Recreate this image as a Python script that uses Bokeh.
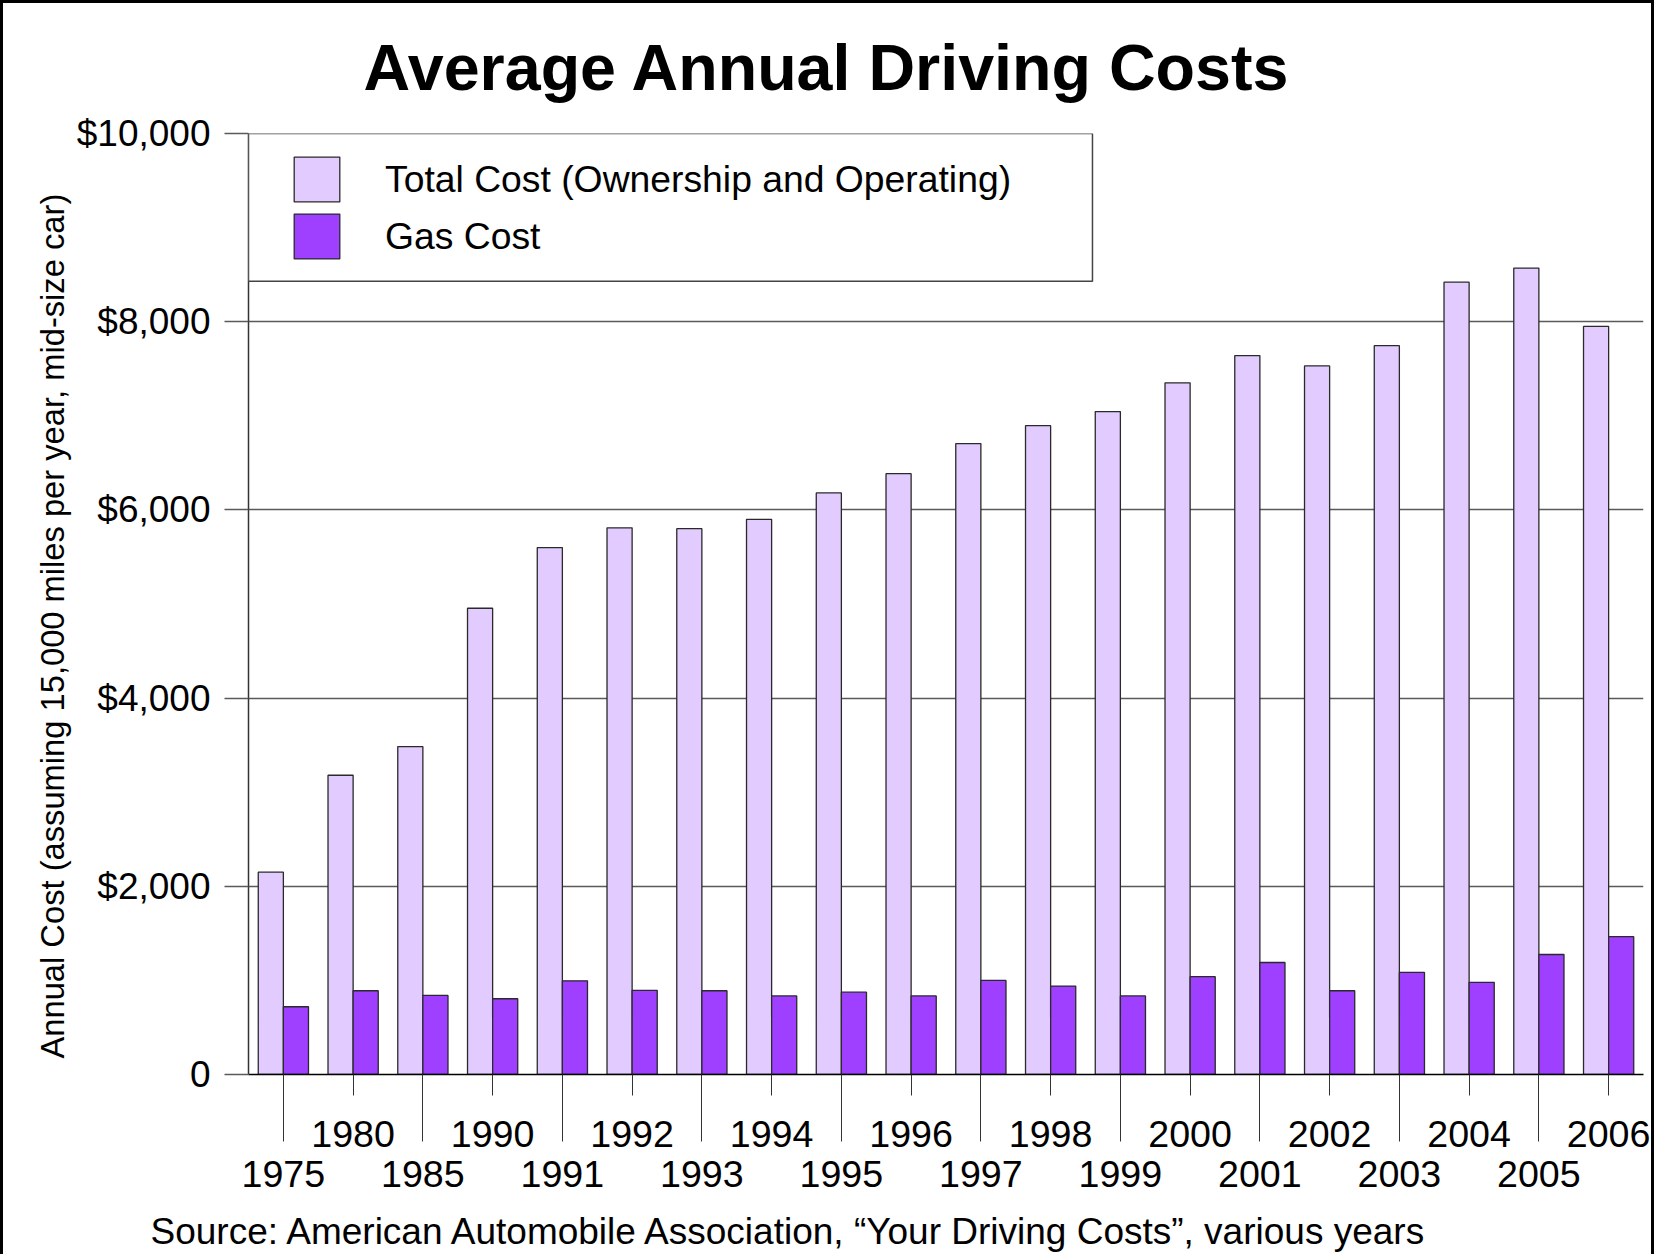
from bokeh.plotting import figure
from bokeh.models import (Range1d, LinearAxis, FixedTicker, ColumnDataSource, Legend,
                          LegendItem, BoxAnnotation, Title)
from bokeh.transform import dodge
from bokeh.embed import file_html
from bokeh.resources import INLINE

# ---------------- data ----------------
years = ["1975", "1980", "1985", "1990", "1991", "1992", "1993", "1994", "1995", "1996",
         "1997", "1998", "1999", "2000", "2001", "2002", "2003", "2004", "2005", "2006"]
total_cost = [2150, 3180, 3485, 4955, 5600, 5810, 5800, 5900, 6180, 6385,
              6705, 6895, 7045, 7350, 7640, 7530, 7745, 8420, 8570, 7950]
gas_cost = [720, 890, 840, 805, 995, 895, 890, 835, 875, 835,
            1000, 940, 835, 1040, 1190, 890, 1085, 980, 1275, 1465]
y_ticks = [0, 2000, 4000, 6000, 8000, 10000]
y_tick_labels = ["0", "$2,000", "$4,000", "$6,000", "$8,000", "$10,000"]
series_names = ["Total Cost (Ownership and Operating)", "Gas Cost"]
title_text = "Average Annual Driving Costs"
y_label_text = "Annual Cost (assuming 15,000 miles per year, mid-size car)"
source_text = "Source: American Automobile Association, \u201cYour Driving Costs\u201d, various years"

# ---------------- styles ----------------
FONT = "Liberation Sans"
TOTAL_COLOR = "#E2CCFF"
GAS_COLOR = "#9F3FFF"
EDGE = "#2a2a2a"
GRID = "#5a5a5a"

idx = list(range(len(years)))
src = ColumnDataSource(dict(x=idx, total=total_cost, gas=gas_cost, year=years))

x_start, x_end = -0.5, len(years) - 0.5
y_start, y_end = 0, 10000

p = figure(width=1654, height=1254,
           x_range=Range1d(x_start, x_end), y_range=Range1d(y_start, y_end),
           x_axis_location=None, y_axis_location="left",
           output_backend="svg", toolbar_location=None,
           min_border_left=248, min_border_right=11,
           min_border_top=133, min_border_bottom=180,
           title=title_text)

p.styles = {"box-shadow": "inset 3px 0 0 #000, inset -3px 0 0 #000, inset 0 3px 0 #000",
            "background-color": "white"}
p.border_fill_color = None
p.background_fill_color = "white"
p.outline_line_color = None

# title
p.title.text_font = FONT
p.title.text_font_size = "64.6px"
p.title.text_font_style = "bold"
p.title.align = "left"
p.title.offset = 115
p.title.standoff = 59
p.title.text_color = "black"

# grid
p.xgrid.visible = False
p.ygrid.ticker = FixedTicker(ticks=y_ticks)
p.ygrid.grid_line_color = GRID
p.ygrid.grid_line_width = 1.5

# y axis
ya = p.yaxis[0]
ya.ticker = FixedTicker(ticks=y_ticks)
ya.major_label_overrides = {t: l for t, l in zip(y_ticks, y_tick_labels)}
ya.major_tick_out = 24
ya.major_tick_in = 0
ya.minor_tick_out = 0
ya.minor_tick_in = 0
ya.major_tick_line_color = GRID
ya.major_tick_line_width = 1.5
ya.axis_line_color = "#333333"
ya.axis_line_width = 1.5
ya.major_label_standoff = 14
ya.major_label_text_font = FONT
ya.major_label_text_font_size = "37px"
ya.major_label_text_color = "black"

# y axis title (left panel, rotated)
ytitle = Title(text=y_label_text, align="left", offset=16, standoff=5,
               text_font=FONT, text_font_size="32.7px", text_font_style="normal",
               text_color="black")
p.add_layout(ytitle, "left")

# x axes: upper row (odd positions, short ticks) + long minor ticks for lower row
upper = [i for i in idx if i % 2 == 1]
lower = [i for i in idx if i % 2 == 0]

xa1 = LinearAxis(ticker=FixedTicker(ticks=upper, minor_ticks=lower),
                 major_label_overrides={i: years[i] for i in upper})
xa1.major_tick_out = 21
xa1.major_tick_in = 0
xa1.minor_tick_out = 67
xa1.minor_tick_in = 0
xa1.major_tick_line_color = "#333333"
xa1.minor_tick_line_color = "#333333"
xa1.axis_line_color = "black"
xa1.axis_line_width = 1.5
xa1.major_label_standoff = -21
xa1.major_label_text_font = FONT
xa1.major_label_text_font_size = "37.6px"
xa1.major_label_text_color = "black"
p.add_layout(xa1, "below")

xa2 = LinearAxis(ticker=FixedTicker(ticks=lower, minor_ticks=[]),
                 major_label_overrides={i: years[i] for i in lower})
xa2.major_tick_out = 0
xa2.major_tick_in = 0
xa2.minor_tick_out = 0
xa2.minor_tick_in = 0
xa2.major_tick_line_color = None
xa2.minor_tick_line_color = None
xa2.axis_line_color = None
xa2.major_label_standoff = 11
xa2.major_label_text_font = FONT
xa2.major_label_text_font_size = "37.6px"
xa2.major_label_text_color = "black"
p.add_layout(xa2, "below")

# invisible spacer between the year rows and the source note
spacer = LinearAxis(ticker=FixedTicker(ticks=[x_start], minor_ticks=[]),
                    major_label_overrides={x_start: ""})
spacer.major_tick_out = 19
spacer.major_tick_in = 0
spacer.minor_tick_out = 0
spacer.major_label_standoff = 0
spacer.major_label_text_font_size = "1px"
spacer.axis_line_color = None
spacer.major_tick_line_color = "white"
spacer.minor_tick_line_color = None
p.add_layout(spacer, "below")

# source note
stitle = Title(text=source_text, align="left", offset=-98, standoff=0,
               text_font=FONT, text_font_size="37px", text_font_style="normal",
               text_color="black")
p.add_layout(stitle, "below")

# legend box (drawn before legend so the legend sits on top)
legend_box = BoxAnnotation(left=x_start, right=11.6, top=y_end, bottom=8430,
                           fill_color="white", fill_alpha=1.0,
                           line_color="#444444", line_alpha=1.0, line_width=1.5,
                           level="annotation")
p.add_layout(legend_box)

# bars
BAR_W = 0.36
r_total = p.vbar(x=dodge("x", -0.18), top="total", width=BAR_W, bottom=0, source=src,
                 fill_color=TOTAL_COLOR, line_color=EDGE, line_width=1.3)
r_gas = p.vbar(x=dodge("x", 0.18), top="gas", width=BAR_W, bottom=0, source=src,
               fill_color=GAS_COLOR, line_color=EDGE, line_width=1.3)

legend = Legend(items=[LegendItem(label=series_names[0], renderers=[r_total]),
                       LegendItem(label=series_names[1], renderers=[r_gas])],
                location=(40, 810))
legend.padding = 0
legend.margin = 0
legend.spacing = 1
legend.glyph_width = 57
legend.glyph_height = 56
legend.label_standoff = 40
legend.label_text_font = FONT
legend.label_text_font_size = "37.3px"
legend.label_text_color = "black"
legend.border_line_color = None
legend.background_fill_alpha = 0
p.add_layout(legend)

open("out.html", "w").write(file_html(p, INLINE))
